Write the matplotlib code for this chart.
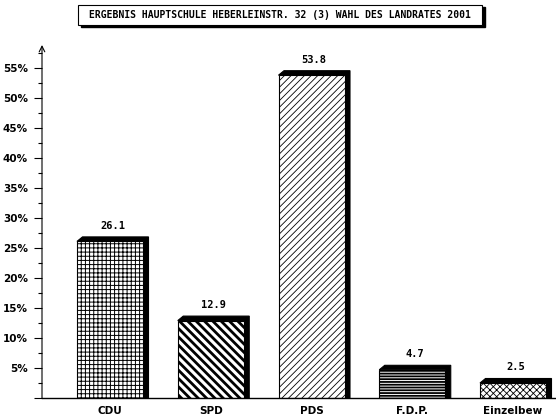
import matplotlib.pyplot as plt
from matplotlib.patches import Polygon, Rectangle
from matplotlib.ticker import MultipleLocator, FuncFormatter

# Daten
parteien = ["CDU", "SPD", "PDS", "F.D.P.", "Einzelbew"]
prozente = [26.1, 12.9, 53.8, 4.7, 2.5]
schraffuren = ["++++", "\\\\\\\\", "/////", "------", "xxxxx"]
schraffur_lw = [0.7, 2.0, 0.6, 1.3, 0.6]
titel = "ERGEBNIS HAUPTSCHULE HEBERLEINSTR. 32 (3) WAHL DES LANDRATES 2001"

W, H = 556, 420
fig = plt.figure(figsize=(W / 100, H / 100), dpi=100)
fig.patch.set_facecolor("white")

schrift = dict(family="DejaVu Sans Mono", fontweight="bold", fontsize=7.5)
achsen_schrift = dict(family="DejaVu Sans", fontweight="bold", fontsize=7.5)

# Achse: links x=42, Grundlinie y=398, oben y=45
links, unten, oben = 42, 398, 45
ax = fig.add_axes([links / W, (H - unten) / H, (W - links) / W, (unten - oben) / H])
px_pro_einheit = 100.75
ax.set_xlim(-68 / px_pro_einheit, -68 / px_pro_einheit + (W - links) / px_pro_einheit)
ax.set_ylim(0, (unten - oben) / 6.0)

breite = 66 / px_pro_einheit
dx = 5.5 / px_pro_einheit
dy = 4.5 / 6.0

for i, (wert, hatch, hlw) in enumerate(zip(prozente, schraffuren, schraffur_lw)):
    x0 = i - breite / 2
    x1 = i + breite / 2
    # Schatten (Oberseite und rechte Seite)
    schatten = Polygon([(x0, wert), (x0 + dx, wert + dy), (x1 + dx, wert + dy),
                        (x1 + dx, 0), (x1, 0), (x1, wert)],
                       closed=True, facecolor="black", edgecolor="black", lw=0.8)
    ax.add_patch(schatten)
    plt.rcParams["hatch.linewidth"] = hlw
    balken = Rectangle((x0, 0), breite, wert, facecolor="white",
                       edgecolor="black", hatch=hatch, lw=0.8)
    try:
        balken.set_hatch_linewidth(hlw)
    except AttributeError:
        pass
    ax.add_patch(balken)
    ax.text(i + dx / 2, wert + dy + 1.0, f"{wert:.1f}", ha="center", va="bottom", **schrift)

# Achsen
for s in ("top", "right", "left"):
    ax.spines[s].set_visible(False)
ax.spines["bottom"].set_linewidth(1.0)
ax.annotate("", xy=(0, 1.0), xytext=(0, 0), xycoords="axes fraction",
            arrowprops=dict(arrowstyle="->", lw=0.8, color="black",
                            mutation_scale=10, shrinkA=0, shrinkB=0))

ax.yaxis.set_major_locator(MultipleLocator(5))
ax.yaxis.set_minor_locator(MultipleLocator(2.5))
ax.yaxis.set_major_formatter(FuncFormatter(lambda v, p: "" if v == 0 else f"{int(v)}%"))
ax.tick_params(axis="y", which="major", length=6, width=0.8, pad=4)
ax.tick_params(axis="y", which="minor", length=3, width=0.8)
for lbl in ax.get_yticklabels():
    lbl.set(**achsen_schrift)

ax.set_xticks(range(len(parteien)))
ax.set_xticklabels(parteien, **achsen_schrift)
ax.tick_params(axis="x", length=0, pad=6)

# Titel mit Schattenkasten
tx0, ty0, tx1, ty1 = 78, 5, 482, 25
fig.patches.append(Rectangle((tx0 / W + 3 / W, 1 - (ty1 + 2) / H), (tx1 - tx0) / W, (ty1 - ty0) / H,
                             transform=fig.transFigure, facecolor="black", edgecolor="black"))
fig.patches.append(Rectangle((tx0 / W, 1 - ty1 / H), (tx1 - tx0) / W, (ty1 - ty0) / H,
                             transform=fig.transFigure, facecolor="white", edgecolor="black", lw=0.8))
fig.text((tx0 + tx1) / 2 / W, 1 - (ty0 + ty1) / 2 / H, titel, ha="center", va="center",
         family="DejaVu Sans Mono", fontweight="bold", fontsize=7)

fig.savefig("out.png", dpi=100)
